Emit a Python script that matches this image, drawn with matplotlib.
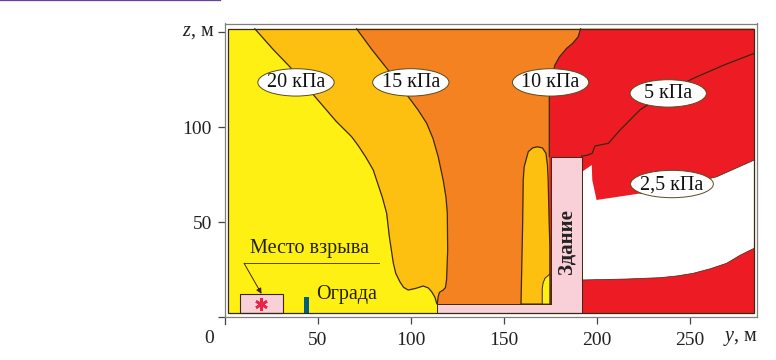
import matplotlib
matplotlib.use("Agg")
import matplotlib.pyplot as plt
import matplotlib.patches as patches

plt.rcParams['font.family'] = ['Liberation Serif', 'DejaVu Serif']
plt.rcParams['mathtext.fontset'] = 'custom'
plt.rcParams['mathtext.it'] = 'Liberation Serif:italic'
plt.rcParams['mathtext.rm'] = 'Liberation Serif'

# contour lines (y, z in metres)
y_20 = [16.3, 26, 35.1, 48.6, 60, 68.3, 72, 76, 79.9, 81.7, 84.8, 87.1, 88.6, 90.7, 92, 94.2, 96.2, 98.7, 102.5, 106.8, 109.5, 111.3, 113, 114]
z_20 = [151.7, 141, 131.7, 116, 103, 94.9, 90, 84, 77.4, 72.1, 63, 54.7, 42, 28.4, 23, 18.6, 15.6, 14.2, 15, 16.3, 15.3, 13.3, 10.5, 7.2]
y_15 = [71, 79, 87.1, 98.7, 104, 108.6, 112, 114.8, 117.5, 119, 119.7, 119.9, 119.3, 118.7, 117.5, 115.5, 114.8, 114.3]
z_15 = [151.7, 141, 131, 116, 109, 102, 94, 84.4, 72, 63, 54.6, 35, 19.5, 15.5, 14.2, 13, 10.7, 6.8]
y_10 = [191.3, 190, 187, 183.8, 180, 177.5, 175.5, 174.5, 174.5]
z_10 = [151.7, 147.5, 144, 141.4, 137, 132.6, 125, 116, 84.4]
y_5 = [284.6, 268, 251.8, 237, 223.2, 212.5, 206.2, 203, 199, 197.6, 195, 191.9]
z_5 = [138.8, 132.5, 125.6, 118, 109, 98.4, 91.4, 90.8, 90, 86.2, 85.2, 84.7]

# amber pocket next to the building and the yellow sliver inside it
y_pocket = [159.3, 160.2, 160.5, 161, 163.2, 165.5, 168, 170.8, 172.7, 173.5, 173.9, 174.3, 174.8, 174.8]
z_pocket = [6.8, 50, 72, 79, 87, 89, 89.6, 89, 86.2, 80, 72, 55, 37, 6.8]
y_sliver = [170.7, 170.7, 171.2, 172.2, 174.8, 174.8]
z_sliver = [6.8, 15, 18, 20.4, 22.6, 6.8]

# 2.5 kPa zone, white
y_white = [192.2, 197.3, 197.6, 199.9, 223.2, 240, 264.4, 284.6, 284.6, 277, 269.8, 261, 251.8, 243, 234, 216, 192.2]
z_white = [76.5, 80, 72, 61.6, 65, 68, 73.8, 82.6, 36.2, 32.5, 28.3, 25.4, 23, 21.6, 20.7, 20, 19.5]

label_texts = ["20 кПа", "15 кПа", "10 кПа", "5 кПа", "2,5 кПа"]
label_y = [38.4, 100.1, 175.2, 238.4, 240.4]
label_z = [123.5, 123.5, 123.5, 117.7, 70]
label_w = [41, 41, 41, 41, 44.5]

x_ticks = [50, 100, 150, 200, 250]
z_ticks = [0, 50, 100, 150]
z_tick_labels = ["", "50", "100", ""]

Y0, Y1, Z0, Z1 = 2, 284.6, 2, 151.7
Z_STRIP = 6.8
Y_BLD0, Y_BLD1, Z_BLD = 175.4, 191.9, 84.4

YELLOW = "#FFF014"
AMBER = "#FDC010"
ORANGE = "#F58220"
RED = "#ED1C24"
PINK = "#F9CFD8"
DARK = "#3A2810"
GREY = "#808080"
FS = 14.5

fig = plt.figure(figsize=(7.76, 3.6), dpi=100)
ax = fig.add_axes([224.5 / 776, (360 - 317) / 360, (757.2 - 224.5) / 776, (317 - 23.5) / 360])
ax.set_xlim(0, 286.2)
ax.set_ylim(0, 154.5)

# filled zones, painted from left to right
ax.fill([Y0, Y1, Y1, Y0], [Z0, Z0, Z1, Z1], color=YELLOW, lw=0)
ax.fill(y_20 + [Y1, Y1], z_20 + [Z_STRIP, Z1], color=AMBER, lw=0)
ax.fill(y_15 + [Y1, Y1], z_15 + [Z_STRIP, Z1], color=ORANGE, lw=0)
ax.fill(y_10 + [y_10[-1], Y1, Y1], z_10 + [Z0, Z0, Z1], color=RED, lw=0)
ax.fill(y_pocket, z_pocket, facecolor=AMBER, edgecolor=DARK, lw=0.9)
ax.fill(y_sliver, z_sliver, facecolor=YELLOW, edgecolor=DARK, lw=0.7)
ax.fill(y_white, z_white, color="white", lw=0)

for ys, zs in [(y_20, z_20), (y_15, z_15), (y_10, z_10), (y_5, z_5)]:
    ax.plot(ys, zs, color=DARK, lw=0.9)
ax.plot(y_white[4:8], z_white[4:8], color=DARK, lw=0.5)
ax.plot(y_white[8:], z_white[8:], color=DARK, lw=0.5)

# building and ground strip
ax.add_patch(patches.Rectangle((Y_BLD0, Z0), Y_BLD1 - Y_BLD0, Z_BLD - Z0, facecolor=PINK, edgecolor="none"))
ax.add_patch(patches.Rectangle((114, Z0), Y_BLD1 - 114, Z_STRIP - Z0, facecolor=PINK, edgecolor="none"))
ax.plot([114, 114, Y_BLD0], [Z0, Z_STRIP, Z_STRIP], color=DARK, lw=0.7)
ax.plot([Y_BLD0, Y_BLD0, Y_BLD1, Y_BLD1], [Z_STRIP, Z_BLD, Z_BLD, Z0], color=DARK, lw=0.7)
ax.text(183.8, 39.6, "Здание", rotation=90, ha="center", va="center", fontsize=15, fontweight="bold", color="#222222")

# explosion site and fence
ax.add_patch(patches.Rectangle((8.3, Z0), 22.9, 9.9, facecolor=PINK, edgecolor=DARK, lw=0.8))
ax.plot([19.7], [6.8], marker=(6, 2, 0), ms=9, mew=1.9, color="#E8254A")
ax.add_patch(patches.Rectangle((42.7, Z0), 2.7, 8.7, facecolor="#005F80", edgecolor="none"))
ax.text(45.4, 36.2, "Место взрыва", ha="center", va="center", fontsize=FS, color="#222200")
ax.text(65.6, 11.6, "Ограда", ha="center", va="center", fontsize=FS, color="#222200")
ax.plot([10.5, 83.1], [28.3, 28.3], color=DARK, lw=0.6)
ax.annotate("", xy=(19.9, 12.2), xytext=(10.5, 28.3),
            arrowprops=dict(arrowstyle="-|>", lw=0.7, color=DARK, shrinkA=0, shrinkB=0, mutation_scale=8))

# frame of the filled area
ax.add_patch(patches.Rectangle((Y0, Z0), Y1 - Y0, Z1 - Z0, facecolor="none", edgecolor=DARK, lw=0.9))

# pressure labels
for txt, ly, lz, lw_ in zip(label_texts, label_y, label_z, label_w):
    ax.add_patch(patches.Ellipse((ly, lz), lw_, 14.4, facecolor="white", edgecolor="#5A4A20", lw=0.7, zorder=5))
    ax.text(ly, lz - 0.3, txt, ha="center", va="center", fontsize=FS, color="#111111", zorder=6)

# axes
for side in ax.spines:
    ax.spines[side].set_color(GREY)
    ax.spines[side].set_linewidth(0.9)
ax.set_xticks(x_ticks)
ax.set_yticks(z_ticks)
ax.set_yticklabels(z_tick_labels)
ax.tick_params(axis="both", length=5, width=0.9, color="#444444", labelsize=14, labelcolor="#222222")
ax.tick_params(axis="x", pad=6)
ax.tick_params(axis="y", pad=4)
ax.plot([0, 0], [0, -3.7], color="#444444", lw=0.9, clip_on=False)
ax.text(-8.5, -11.5, "0", ha="center", va="center", fontsize=14, color="#222222")
ax.text(-5.5, 150.5, r"$\mathit{z}$, м", ha="right", va="center", fontsize=FS, color="#222222")
ax.text(286.5, -11.5, r"$\mathit{y}$, м", ha="right", va="center", fontsize=FS, color="#222222")

# purple rule cut off at the top of the page
fig.add_artist(plt.Line2D([0, 220 / 776], [0.999, 0.999], color="#6A3FA0", lw=1.6))

fig.savefig("out.png", dpi=100)
